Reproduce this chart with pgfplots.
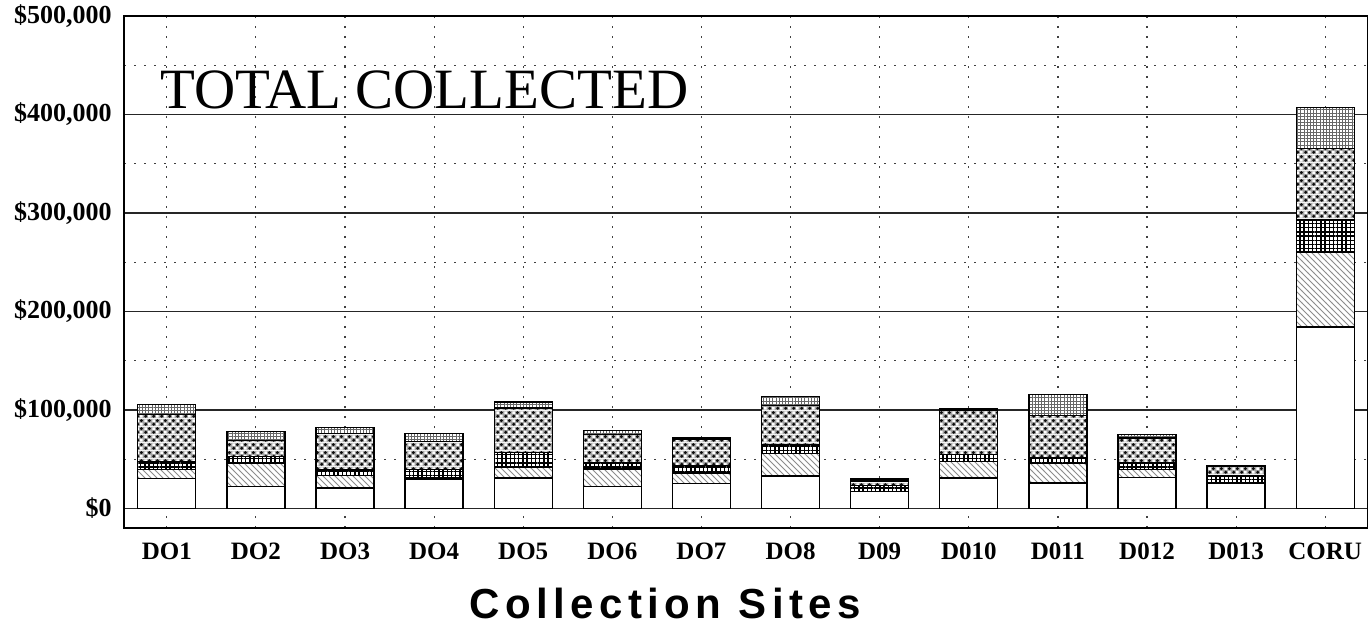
\documentclass[border=0pt]{standalone}
\usepackage{fontspec}
\setmainfont{Liberation Serif}
\newfontfamily\arialb[LetterSpace=13]{Liberation Sans}
\usepackage{pgfplots}
\usepackage{pgfplotstable}
\pgfplotsset{compat=1.18}
\usetikzlibrary{patterns}

\pgfdeclarepatternformonly{finegrid}{\pgfpoint{-0.1pt}{-0.1pt}}{\pgfpoint{1.6pt}{1.6pt}}{\pgfpoint{1.6pt}{1.6pt}}{%
  \pgfsetlinewidth{0.35pt}%
  \pgfpathmoveto{\pgfqpoint{0pt}{0.8pt}}\pgfpathlineto{\pgfqpoint{1.6pt}{0.8pt}}%
  \pgfpathmoveto{\pgfqpoint{0.8pt}{0pt}}\pgfpathlineto{\pgfqpoint{0.8pt}{1.6pt}}%
  \pgfusepath{stroke}}
\pgfdeclarepatternformonly{densegrid}{\pgfpoint{-0.1pt}{-0.1pt}}{\pgfpoint{2.1pt}{2.1pt}}{\pgfpoint{2.1pt}{2.1pt}}{%
  \pgfsetlinewidth{0.7pt}%
  \pgfpathmoveto{\pgfqpoint{0pt}{1.05pt}}\pgfpathlineto{\pgfqpoint{2.1pt}{1.05pt}}%
  \pgfpathmoveto{\pgfqpoint{1.05pt}{0pt}}\pgfpathlineto{\pgfqpoint{1.05pt}{2.1pt}}%
  \pgfusepath{stroke}}
\pgfdeclarepatterninherentlycolored{dotchecker}{\pgfpoint{0pt}{0pt}}{\pgfpoint{4pt}{4pt}}{\pgfpoint{4pt}{4pt}}{%
  \pgfsetfillcolor{black!35}%
  \pgfpathrectangle{\pgfqpoint{0pt}{0pt}}{\pgfqpoint{4pt}{4pt}}\pgfusepath{fill}%
  \pgfsetfillcolor{white}%
  \pgfpathrectangle{\pgfqpoint{0.25pt}{2.25pt}}{\pgfqpoint{1.5pt}{1.5pt}}%
  \pgfpathrectangle{\pgfqpoint{2.25pt}{0.25pt}}{\pgfqpoint{1.5pt}{1.5pt}}\pgfusepath{fill}%
  \pgfsetfillcolor{black!95}%
  \pgfpathcircle{\pgfqpoint{1pt}{1pt}}{0.9pt}%
  \pgfpathcircle{\pgfqpoint{3pt}{3pt}}{0.9pt}\pgfusepath{fill}}

\pgfplotstableread{
x w h g c f
0 30400 9100 8200 47600 10200
1 22600 23700 6700 16300 9100
2 21000 12500 5400 37100 6400
3 29400 1700 8400 28800 7700
4 31100 11200 14800 44900 6100
5 22600 17700 6700 28000 4400
6 25400 10800 7400 26600 1500
7 32800 23000 9100 39500 9500
8 17500 0 5800 4800 2000
9 31100 16900 6700 45300 1000
10 26000 19600 5800 42900 21300
11 31700 7800 6800 25400 3300
12 26000 0 6800 10100 1000
13 184200 76100 32700 72700 41600
}\datatable

\begin{document}
\begin{tikzpicture}
\begin{axis}[
  scale only axis,
  width=622pt, height=256pt,
  ybar stacked, bar width=29pt,
  xmin=-0.48, xmax=13.48,
  ymin=-19800, ymax=500000,
  scaled y ticks=false,
  xtick={0,...,13},
  xticklabels={DO1,DO2,DO3,DO4,DO5,DO6,DO7,DO8,D09,D010,D011,D012,D013,CORU},
  ytick={0,100000,200000,300000,400000,500000},
  yticklabels={{\$0},{\$100,000},{\$200,000},{\$300,000},{\$400,000},{\$500,000}},
  minor ytick={50000,150000,250000,350000,450000},
  xmajorgrids, ymajorgrids, yminorgrids,
  major x grid style={black!75, line width=0.6pt, dash pattern=on 0.8pt off 4.2pt},
  major y grid style={black!85, line width=0.6pt},
  minor y grid style={black!75, line width=0.6pt, dash pattern=on 0.8pt off 4.2pt},
  major tick length=0pt, minor tick length=0pt,
  axis line style={black, line width=0.8pt},
  xticklabel style={font=\fontsize{12.5}{14}\selectfont\bfseries, anchor=base, yshift=-15.5pt},
  yticklabel style={font=\fontsize{13}{15}\selectfont\bfseries, anchor=east, inner sep=0pt, xshift=-6pt},
  xlabel={\arialb\fontsize{21}{24}\selectfont\bfseries Collection Sites},
  xlabel style={at={(rel axis cs:0.435,0)}, anchor=base, yshift=-45pt, inner sep=0pt},
  every axis plot/.append style={draw=black, line width=0.7pt},
]
\coordinate (O) at (rel axis cs:0,0);
\addplot[fill=white] table[x=x,y=w]{\datatable};
\addplot[fill=white, postaction={pattern=north west lines, pattern color=black!45}] table[x=x,y=h]{\datatable};
\addplot[fill=white, postaction={pattern=densegrid, pattern color=black}] table[x=x,y=g]{\datatable};
\addplot[fill=white, postaction={pattern=dotchecker}] table[x=x,y=c]{\datatable};
\addplot[fill=white, postaction={pattern=finegrid, pattern color=black!60}] table[x=x,y=f]{\datatable};
\node[anchor=base west, inner sep=0pt, font=\fontsize{28.5}{32}\selectfont] at (axis cs:-0.076,406600) {TOTAL COLLECTED};
\end{axis}
\pgfresetboundingbox
\path (O) ++(-62pt,-52.5pt) rectangle ++(684pt,316.5pt);
\end{tikzpicture}
\end{document}
